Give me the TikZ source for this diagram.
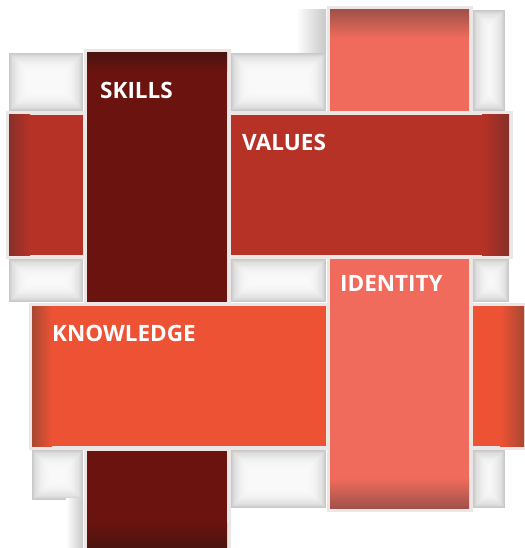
\documentclass[tikz,border=0pt]{standalone}
\usepackage{fontspec}
\setmainfont{Open Sans}
\definecolor{skills}{HTML}{6B130F}
\definecolor{skillsdark}{HTML}{4A1510}
\definecolor{values}{HTML}{B73226}
\definecolor{valuesdark}{HTML}{86302A}
\definecolor{identity}{HTML}{F06B5C}
\definecolor{identitydark}{HTML}{A0524A}
\definecolor{knowledge}{HTML}{EE5234}
\definecolor{knowledgedark}{HTML}{A84832}
\definecolor{gapcol}{HTML}{ECE7E5}
\definecolor{holegray}{HTML}{C8C8C8}
\newcommand\holecell[4]{%
  \fill[holegray] (#1,#2) rectangle (#3,#4);
  \foreach \k in {1,...,16}{%
    \fill[white,opacity=0.16] ({#1+\k*1.1},{#2+\k*1.1}) rectangle ({#3-\k*1.1},{#4-\k*1.1});
  }}
\newcommand\piece[5]{%
  \fill[#1] (#2,#3) rectangle (#4,#5);}
\newcommand\frm[4]{%
  \fill[gapcol] ({#1-3.5},{#2-3.5}) rectangle ({#3+3.5},{#4+3.5});}
\begin{document}
\begin{tikzpicture}[x=1pt,y=-1pt,
  lbl/.style={text=white,font=\bfseries\fontsize{22.5}{27}\selectfont,anchor=base west,inner sep=0pt}]
\useasboundingbox (0,0) rectangle (524,548);
\fill[white] (0,0) rectangle (524,548);
% recessed cells
\holecell{9}{53}{83}{111}
\holecell{231}{53}{326}{111}
\shade[left color=white,right color=holegray] (296,10) rectangle (326,53);
\holecell{473}{10}{505}{111}
\holecell{9}{259}{83}{302}
\holecell{231}{259}{326}{302}
\holecell{473}{259}{509}{302}
\holecell{32}{450}{83}{500}
\shade[left color=white,right color=holegray] (66,498) rectangle (83,548);
\holecell{231}{450}{326}{508}
\holecell{473}{450}{505}{508}
% frames
\frm{87}{53}{227}{302}
\frm{87}{451}{227}{548}
\frm{9}{115}{83}{255}
\frm{231}{115}{509}{255}
\frm{330}{10}{469}{111}
\frm{330}{259}{469}{508}
\frm{32}{306}{326}{446}
\frm{473}{306}{524}{446}
% skills
\piece{skills}{87}{53}{227}{302}
\shade[top color=skillsdark,bottom color=skills] (87,53) rectangle (227,72);
\piece{skills}{87}{451}{227}{548}
\shade[top color=skills,bottom color=skillsdark] (87,522) rectangle (227,548);
% values
\piece{values}{9}{115}{83}{255}
\shade[left color=valuesdark,right color=values] (9,115) rectangle (30,255);
\piece{values}{231}{115}{509}{255}
\shade[left color=values,right color=valuesdark] (482,115) rectangle (509,255);
% identity
\piece{identity}{330}{10}{469}{111}
\shade[top color=identitydark,bottom color=identity] (330,10) rectangle (469,38);
\piece{identity}{330}{259}{469}{508}
\shade[top color=identity,bottom color=identitydark] (330,478) rectangle (469,508);
% knowledge
\piece{knowledge}{32}{306}{326}{446}
\shade[left color=knowledgedark,right color=knowledge] (32,306) rectangle (52,446);
\piece{knowledge}{473}{306}{524}{446}
\shade[left color=knowledge,right color=knowledgedark] (500,306) rectangle (524,446);
% labels
\node[lbl] (skl) at (100,99) {SKILLS};
\node[lbl] (val) at (242,150) {VALUES};
\node[lbl] (ide) at (340,291) {IDENTITY};
\node[lbl] (kno) at (52,341) {KNOWLEDGE};
\end{tikzpicture}
\end{document}
